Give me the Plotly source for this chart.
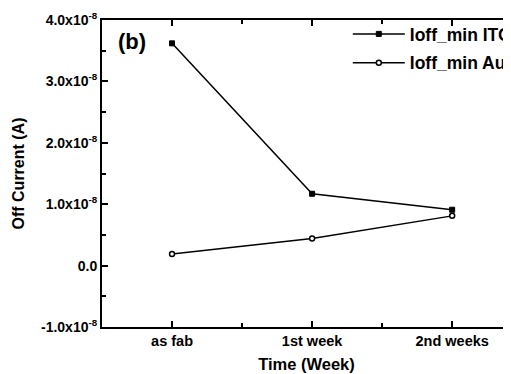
import plotly.graph_objects as go

categories = ["as fab", "1st week", "2nd weeks"]
ioff_ito = [3.62e-8, 1.17e-8, 0.91e-8]
ioff_au = [0.19e-8, 0.44e-8, 0.81e-8]
y_tickvals = [-1e-8, 0.0, 1e-8, 2e-8, 3e-8, 4e-8]
y_ticktext = ["-1.0x10<sup>-8</sup>", "0.0", "1.0x10<sup>-8</sup>", "2.0x10<sup>-8</sup>",
              "3.0x10<sup>-8</sup>", "4.0x10<sup>-8</sup>"]

xpos = list(range(len(categories)))
FONT = "Arial, Liberation Sans, Helvetica, sans-serif"

fig = go.Figure()
fig.add_trace(go.Scatter(
    x=xpos, y=ioff_ito, mode="lines+markers", name="Ioff_min ITO",
    line=dict(color="black", width=1.5),
    marker=dict(symbol="square", size=5, color="black", line=dict(color="black", width=1)),
    legendgroup="a"))
fig.add_trace(go.Scatter(
    x=xpos, y=ioff_au, mode="lines+markers", name="Ioff_min Au",
    line=dict(color="black", width=1.5),
    marker=dict(symbol="circle", size=5, color="white", line=dict(color="black", width=1.5)),
    legendgroup="b"))

# the page body has an 8px margin, so the figure is sized/offset to compensate
fig.update_layout(
    width=503, height=366,
    margin=dict(l=94, r=0, t=12, b=47, autoexpand=False),
    paper_bgcolor="white", plot_bgcolor="white",
    font=dict(family=FONT, color="black", size=14, weight="bold"),
    showlegend=True,
    legend=dict(x=0.601, y=1.013, xanchor="left", yanchor="top",
                bgcolor="rgba(0,0,0,0)", font=dict(size=17.5, weight="bold"),
                traceorder="grouped", tracegroupgap=3, itemwidth=52),
    xaxis=dict(
        range=[-0.5, 2.42], tickmode="array", tickvals=xpos, ticktext=categories,
        showline=True, linecolor="black", linewidth=2, mirror="allticks",
        ticks="inside", ticklen=6, tickwidth=1.5, tickcolor="black",
        showgrid=False, zeroline=False, automargin=False,
        tickfont=dict(size=14.5, weight="bold"),
        minor=dict(tickmode="array", tickvals=[0.5, 1.5], ticks="inside", ticklen=4,
                   tickwidth=1.5, tickcolor="black"),
        title=dict(text="Time (Week)", font=dict(size=16.5, weight="bold"), standoff=10),
    ),
    yaxis=dict(
        range=[-1e-8, 4e-8], tickmode="array", tickvals=y_tickvals, ticktext=y_ticktext,
        showline=True, linecolor="black", linewidth=2, mirror=False,
        ticks="inside", ticklen=6, tickwidth=1.5, tickcolor="black",
        showgrid=False, zeroline=False, automargin=False,
        tickfont=dict(size=14, weight="bold"),
        minor=dict(dtick=0.5e-8, tick0=0, ticks="inside", ticklen=4,
                   tickwidth=1.5, tickcolor="black"),
        title=dict(text="Off Current (A)", font=dict(size=16, weight="bold"), standoff=12),
    ),
)

fig.add_annotation(text="(b)", xref="paper", yref="paper", x=0.035, y=0.978,
                   xanchor="left", yanchor="top", showarrow=False,
                   font=dict(size=22, weight="bold", family=FONT))

fig.write_html("out.html")
